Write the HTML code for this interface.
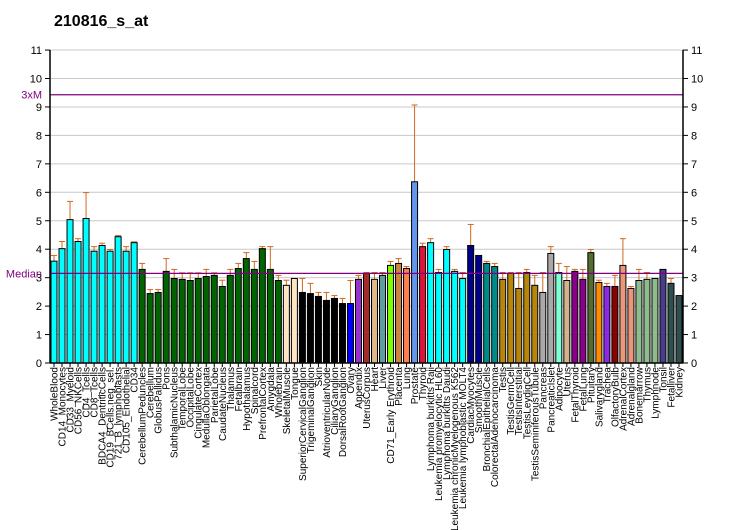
<!DOCTYPE html>
<html><head><meta charset="utf-8"><style>
body{margin:0;background:#fff;}
svg{display:block;font-family:"Liberation Sans",Arial,sans-serif;}
</style></head><body>
<svg id="chart" width="732" height="530">
<text x="54" y="26" font-size="16" font-weight="bold">210816_s_at</text>
<g id="grid"></g><g id="bars"></g><g id="axes"></g><g id="labels"></g>
</svg>
<script>
const categories=["WholeBlood","CD14_Monocytes","CD33_Myeloid","CD56_NKCells","CD4_Tcells","CD8_Tcells","BDCA4_DentriticCells","CD19_BCells.neg_sel.","721_B_lymphoblasts","CD105_Endothelial","CD34","CerebellumPeduncles","Cerebellum","GlobusPallidus","Pons","SubthalamicNucleus","TemporalLobe","OccipitalLobe","CingulateCortex","MedullaOblongata","ParietalLobe","CaudateNucleus","Thalamus","Fetalbrain","Hypothalamus","Spinalcord","PrefrontalCortex","Amygdala","Wholebrain","SkeletalMuscle","Tongue","SuperiorCervicalGanglion","TrigeminalGanglion","Skin","AtrioventricularNode","CiliaryGanglion","DorsalRootGanglion","Ovary","Appendix","UterusCorpus","Heart","Liver","CD71_Early Erythroid","Placenta","Lung","Prostate","Thyroid","Lymphoma burkitts Raji","Leukemia promyelocytic HL60","Lymphoma burkitts Daudi","Leukemia chronicMyelogenous K562","Leukemia lymphoblastic MOLT4","CardiacMyocytes","SmoothMuscle","BronchialEpithelialCells","ColorectalAdenocarcinoma","Testis","TestisGermCell","TestisInterstitial","TestisLeydigCell","TestisSeminiferousTubule","Pancreas","PancreaticIslet","Adipocyte","Uterus","FetalThyroid","FetalLung","Pituitary","Salivarygland","Trachea","OlfactoryBulb","AdrenalCortex","Adrenalgland","Bonemarrow","Thymus","Lymphnode","Tonsil","Fetalliver","Kidney"];
const values=[3.58,4.02,5.04,4.27,5.08,3.93,4.13,3.93,4.44,3.93,4.23,3.29,2.44,2.48,3.22,2.97,2.94,2.90,2.97,3.04,3.08,2.69,3.08,3.32,3.67,3.29,4.02,3.29,2.90,2.73,2.97,2.48,2.44,2.34,2.20,2.27,2.09,2.09,2.94,3.15,2.94,3.08,3.43,3.50,3.32,6.37,4.09,4.23,3.18,3.99,3.22,2.97,4.13,3.78,3.50,3.39,2.94,3.15,2.62,3.18,2.73,2.48,3.85,3.18,2.90,3.22,2.94,3.88,2.83,2.69,2.69,3.43,2.62,2.90,2.94,2.97,3.29,2.80,2.37];
const errTops=[3.78,4.27,5.68,4.37,5.99,4.09,4.21,3.99,4.48,4.09,4.26,3.50,2.58,2.58,3.67,3.29,3.17,3.17,3.17,3.29,3.17,2.91,3.29,3.50,3.88,3.57,4.09,4.09,3.08,2.91,null,2.97,2.80,2.48,2.48,2.37,2.27,2.90,3.08,3.18,3.18,3.18,3.57,3.67,3.39,9.07,4.21,4.37,3.29,4.09,3.29,3.18,4.87,null,3.57,3.50,3.18,3.18,3.18,3.29,3.08,3.18,4.09,3.50,3.39,3.29,3.29,3.99,2.91,2.80,3.08,4.37,2.69,3.29,3.18,null,null,2.97,null];
const colors=["#00FFFF","#00FFFF","#00FFFF","#00FFFF","#00FFFF","#00FFFF","#00FFFF","#00FFFF","#00FFFF","#00FFFF","#00FFFF","#006400","#006400","#006400","#006400","#006400","#006400","#006400","#006400","#006400","#006400","#006400","#006400","#006400","#006400","#006400","#006400","#006400","#006400","#FFE4C4","#FFE4C4","#000000","#000000","#000000","#000000","#000000","#000000","#0000FF","#9932CC","#A52A2A","#DEB887","#5F9EA0","#7FFF00","#CD853F","#FF7F50","#6495ED","#DC143C","#00FFFF","#00FFFF","#00FFFF","#00FFFF","#00FFFF","#00008B","#00008B","#008B8B","#008B8B","#B8860B","#B8860B","#B8860B","#B8860B","#B8860B","#A9A9A9","#A9A9A9","#7FFFD4","#D2B48C","#8B008B","#8B008B","#556B2F","#FF8C00","#8A2BE2","#8B0000","#E9967A","#E9967A","#8FBC8F","#8FBC8F","#8FBC8F","#483D8B","#2F4F4F","#2F4F4F"];
const yTicks=[0,1,2,3,4,5,6,7,8,9,10,11];
const medianValue=3.15, threeXM=9.43;
const NS="http://www.w3.org/2000/svg";
const x0=50,x1=683,y0=363,unit=28.45;
const y=v=>y0-v*unit;
const step=(x1-x0)/categories.length;
const xs=i=>x0+i*step+1;
function mk(tag,attrs,parent){const e=document.createElementNS(NS,tag);for(const k in attrs)e.setAttribute(k,attrs[k]);document.getElementById(parent).appendChild(e);return e;}
yTicks.forEach(t=>{
 if(t>0){const g=mk('line',{x1:x0,x2:x1,y1:y(t),y2:y(t),stroke:'#c8c8c8','stroke-width':1},'grid');
 
 }
 [[x0-5,x0,x0-8,'end'],[x1,x1+5,x1+8,'start']].forEach(([a,b,tx,anc])=>{
  const tk=mk('line',{x1:a,x2:b,y1:y(t),y2:y(t),stroke:'#000'},'axes');
  
  
  const tl=mk('text',{x:tx,y:y(t)+4,'font-size':11,'text-anchor':anc},'axes');
  tl.textContent=t;
  
  
 });
});
categories.forEach((c,i)=>{
 const bx=xs(i),bw=step-2;
 const e=errTops[i];
 if(e!==null){
  const el=mk('line',{x1:bx+bw/2,x2:bx+bw/2,y1:y(values[i]),y2:y(e),stroke:'#D2691E'},'bars');
  
  
  const ec=mk('line',{x1:bx+bw/2-3,x2:bx+bw/2+3,y1:y(e),y2:y(e),stroke:'#D2691E'},'bars');
  
  
 }
 const r=mk('rect',{x:bx,y:y(values[i]),width:bw,height:values[i]*unit,fill:colors[i],stroke:'#000','stroke-width':1},'bars');
 
 
 const tk=mk('line',{x1:bx+bw/2,x2:bx+bw/2,y1:y0,y2:y0+4,stroke:'#000'},'axes');
 
 
 const tl=mk('text',{transform:`translate(${bx+bw/2+3.5},367) rotate(-90)`,'font-size':10,'text-anchor':'end'},'labels');
 tl.textContent=c;
 
 
});
[[medianValue,'Median'],[threeXM,'3xM']].forEach(([v,l])=>{
 const ln=mk('line',{x1:x0,x2:x1,y1:y(v),y2:y(v),stroke:'#800080','stroke-width':1.2},'axes');
 
 
 const t=mk('text',{x:x0-8,y:y(v)+4,'font-size':11,'text-anchor':'end',fill:'#800080'},'axes');
 t.textContent=l;
 
 
});
[[x0,y(11),x0,y0],[x1,y(11),x1,y0],[x0,y0,x1,y0]].forEach(([a,b,c,d])=>{
 const ax=mk('line',{x1:a,y1:b,x2:c,y2:d,stroke:'#000','stroke-width':1.5},'axes');
 
 
});
</script>
</body></html>
